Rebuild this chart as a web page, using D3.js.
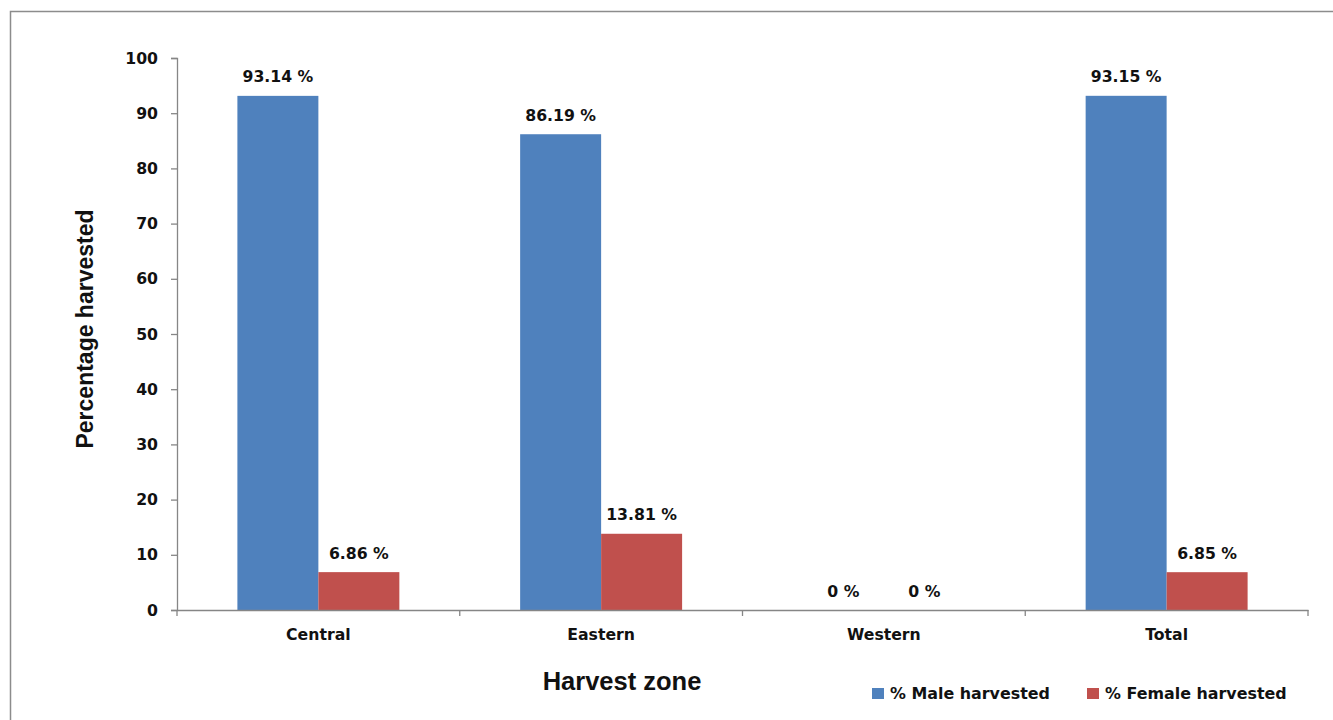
<!DOCTYPE html>
<html>
<head>
<meta charset="utf-8">
<script src="https://cdn.jsdelivr.net/npm/d3@7"></script>
<style>
  html, body { margin: 0; padding: 0; background: #fff; }
  svg { display: block; }
</style>
</head>
<body>
<svg id="chart" width="1333" height="720"></svg>
<script>
const categories = ["Central", "Eastern", "Western", "Total"];
const seriesNames = ["% Male harvested", "% Female harvested"];
const maleValues = [93.14, 86.19, 0, 93.15];
const femaleValues = [6.86, 13.81, 0, 6.85];
const valueLabels = [["93.14 %", "86.19 %", "0 %", "93.15 %"], ["6.86 %", "13.81 %", "0 %", "6.85 %"]];
const yTicks = [0, 10, 20, 30, 40, 50, 60, 70, 80, 90, 100];
const colors = ["#4F81BD", "#C0504D"];

const svg = d3.select("#chart");
const labelFont = "'DejaVu Sans', sans-serif";
const titleFont = "'Liberation Sans', Arial, sans-serif";
const axisColor = "#868686";

// outer frame
svg.append("rect").attr("x", 10.5).attr("y", 11.5).attr("width", 1400).attr("height", 800)
  .attr("fill", "none").attr("stroke", "#8c8c8c").attr("stroke-width", 1.5);

const plot = { left: 177, right: 1308, top: 58, bottom: 610 };

const y = d3.scaleLinear().domain([0, 100]).range([plot.bottom, plot.top]);
const x0 = d3.scaleBand().domain(categories).range([plot.left, plot.right]).padding(0);
const bw = x0.bandwidth();
const x1 = d3.scaleBand().domain(seriesNames).range([bw * 0.2136, bw * 0.7864]).padding(0);

const data = categories.map((c, i) => ({ cat: c, vals: [maleValues[i], femaleValues[i]] }));

// bars
const groups = svg.append("g").selectAll("g").data(data).join("g")
  .attr("transform", d => `translate(${x0(d.cat)},0)`);
groups.selectAll("rect").data(d => d.vals.map((v, j) => ({ v, j, s: seriesNames[j] })))
  .join("rect")
  .attr("x", d => x1(d.s))
  .attr("width", x1.bandwidth())
  .attr("y", d => y(d.v))
  .attr("height", d => plot.bottom - y(d.v))
  .attr("fill", d => colors[d.j]);

// value labels
groups.each(function(d, i) {
  d3.select(this).selectAll("text.val").data(d.vals.map((v, j) => ({ v, j, s: seriesNames[j] })))
    .join("text").attr("class", "val")
    .attr("x", e => x1(e.s) + x1.bandwidth() / 2)
    .attr("y", e => y(e.v) - 13.5)
    .attr("text-anchor", "middle")
    .attr("font-family", labelFont).attr("font-weight", "bold").attr("font-size", "15.7px")
    .attr("fill", "#111")
    .text(e => valueLabels[e.j][i]);
});

// y axis
const yAxis = d3.axisLeft(y).tickValues(yTicks).tickSize(6).tickPadding(13).tickFormat(d3.format("d"));
const gy = svg.append("g").attr("transform", `translate(${plot.left},0)`).call(yAxis);
gy.select(".domain").attr("stroke", axisColor).attr("stroke-width", 1.3);
gy.selectAll(".tick line").attr("stroke", axisColor).attr("stroke-width", 1.3);
gy.selectAll(".tick text").attr("font-family", labelFont).attr("font-weight", "bold")
  .attr("font-size", "15.7px").attr("fill", "#111");

// x axis
const xAxis = d3.axisBottom(x0).tickSize(0).tickPadding(19);
const gx = svg.append("g").attr("transform", `translate(0,${plot.bottom})`).call(xAxis);
gx.select(".domain").attr("stroke", axisColor).attr("stroke-width", 1.3);
gx.selectAll(".tick text").attr("font-family", labelFont).attr("font-weight", "bold")
  .attr("font-size", "15.7px").attr("fill", "#111");
// boundary tick marks between categories
const boundaries = categories.map(c => x0(c)).concat([x0(categories[categories.length - 1]) + bw]);
gx.selectAll("line.bound").data(boundaries).join("line").attr("class", "bound")
  .attr("x1", d => d).attr("x2", d => d).attr("y1", 0).attr("y2", 6)
  .attr("stroke", axisColor).attr("stroke-width", 1.3);

// axis titles
svg.append("text").attr("x", 622).attr("y", 690).attr("text-anchor", "middle")
  .attr("font-family", titleFont).attr("font-weight", "bold").attr("font-size", "25.5px")
  .attr("fill", "#111").text("Harvest zone");
svg.append("text").attr("transform", "translate(93,329) rotate(-90)").attr("text-anchor", "middle")
  .attr("font-family", titleFont).attr("font-weight", "bold").attr("font-size", "23px")
  .attr("fill", "#111").text("Percentage harvested");

// legend
const legendX = [872, 1087];
const legend = svg.append("g").selectAll("g").data(seriesNames).join("g")
  .attr("transform", (d, i) => `translate(${legendX[i]},688)`);
legend.append("rect").attr("width", 12).attr("height", 11).attr("fill", (d, i) => colors[i]);
legend.append("text").attr("x", 18).attr("y", 11)
  .attr("font-family", labelFont).attr("font-weight", "bold").attr("font-size", "15.9px")
  .attr("fill", "#111").text(d => d);
</script>
</body>
</html>
